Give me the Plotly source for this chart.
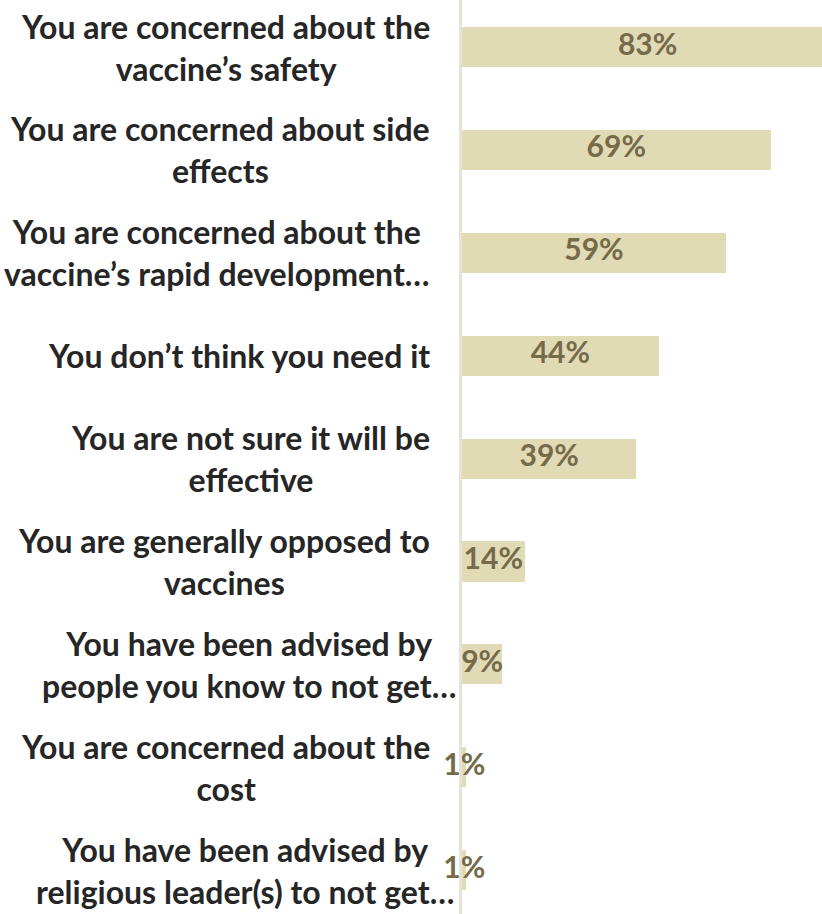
import plotly.graph_objects as go

labels = [
    "You are concerned about the<br>vaccine’s safety",
    "You are concerned about side<br>effects",
    "You are concerned about the<br>vaccine’s rapid development…",
    "You don’t think you need it",
    "You are not sure it will be<br>effective",
    "You are generally opposed to<br>vaccines",
    "You have been advised by<br>people you know to not get…",
    "You are concerned about the<br>cost",
    "You have been advised by<br>religious leader(s) to not get…",
]
values = [83, 69, 59, 44, 39, 14, 9, 1, 1]
value_text = [f"{v}%" for v in values]
label_shift = [-30, -30, -30, -30, -30, -30, -4, -30, -6]

pos = list(range(len(labels)))

BAR = "#E0DBB5"
TXT = "#756B4B"
FONT = "Lato"

fig = go.Figure()
fig.add_trace(go.Bar(
    x=values, y=pos, orientation="h", width=0.39,
    marker=dict(color=BAR, line=dict(width=0)),
    hoverinfo="skip", showlegend=False,
))
fig.add_trace(go.Scatter(
    x=[v / 2 for v in values], y=pos, mode="text", text=value_text,
    textposition="middle center",
    textfont=dict(family=FONT, size=30, color=TXT, weight="bold"),
    hoverinfo="skip", showlegend=False, cliponaxis=False,
))

for p, lab, sh in zip(pos, labels, label_shift):
    fig.add_annotation(
        x=0, xref="paper", y=p, yref="y", text=f"<b>{lab}</b>",
        xanchor="right", yanchor="middle", align="center", xshift=sh,
        showarrow=False,
        font=dict(family=FONT, size=32, color="#262626"),
    )

fig.update_layout(
    width=822, height=914,
    margin=dict(l=462, r=0, t=0, b=0),
    paper_bgcolor="white", plot_bgcolor="white",
    xaxis=dict(range=[0, 80.5], visible=False, fixedrange=True),
    yaxis=dict(range=[8.4257, -0.4568], showticklabels=False, showgrid=False,
               zeroline=False, showline=True, linecolor="#E6E2D8", linewidth=3,
               ticks="", fixedrange=True),
    bargap=0,
)

fig.write_html("out.html", config={"displayModeBar": False},
               post_script="document.body.style.margin='0px';")
